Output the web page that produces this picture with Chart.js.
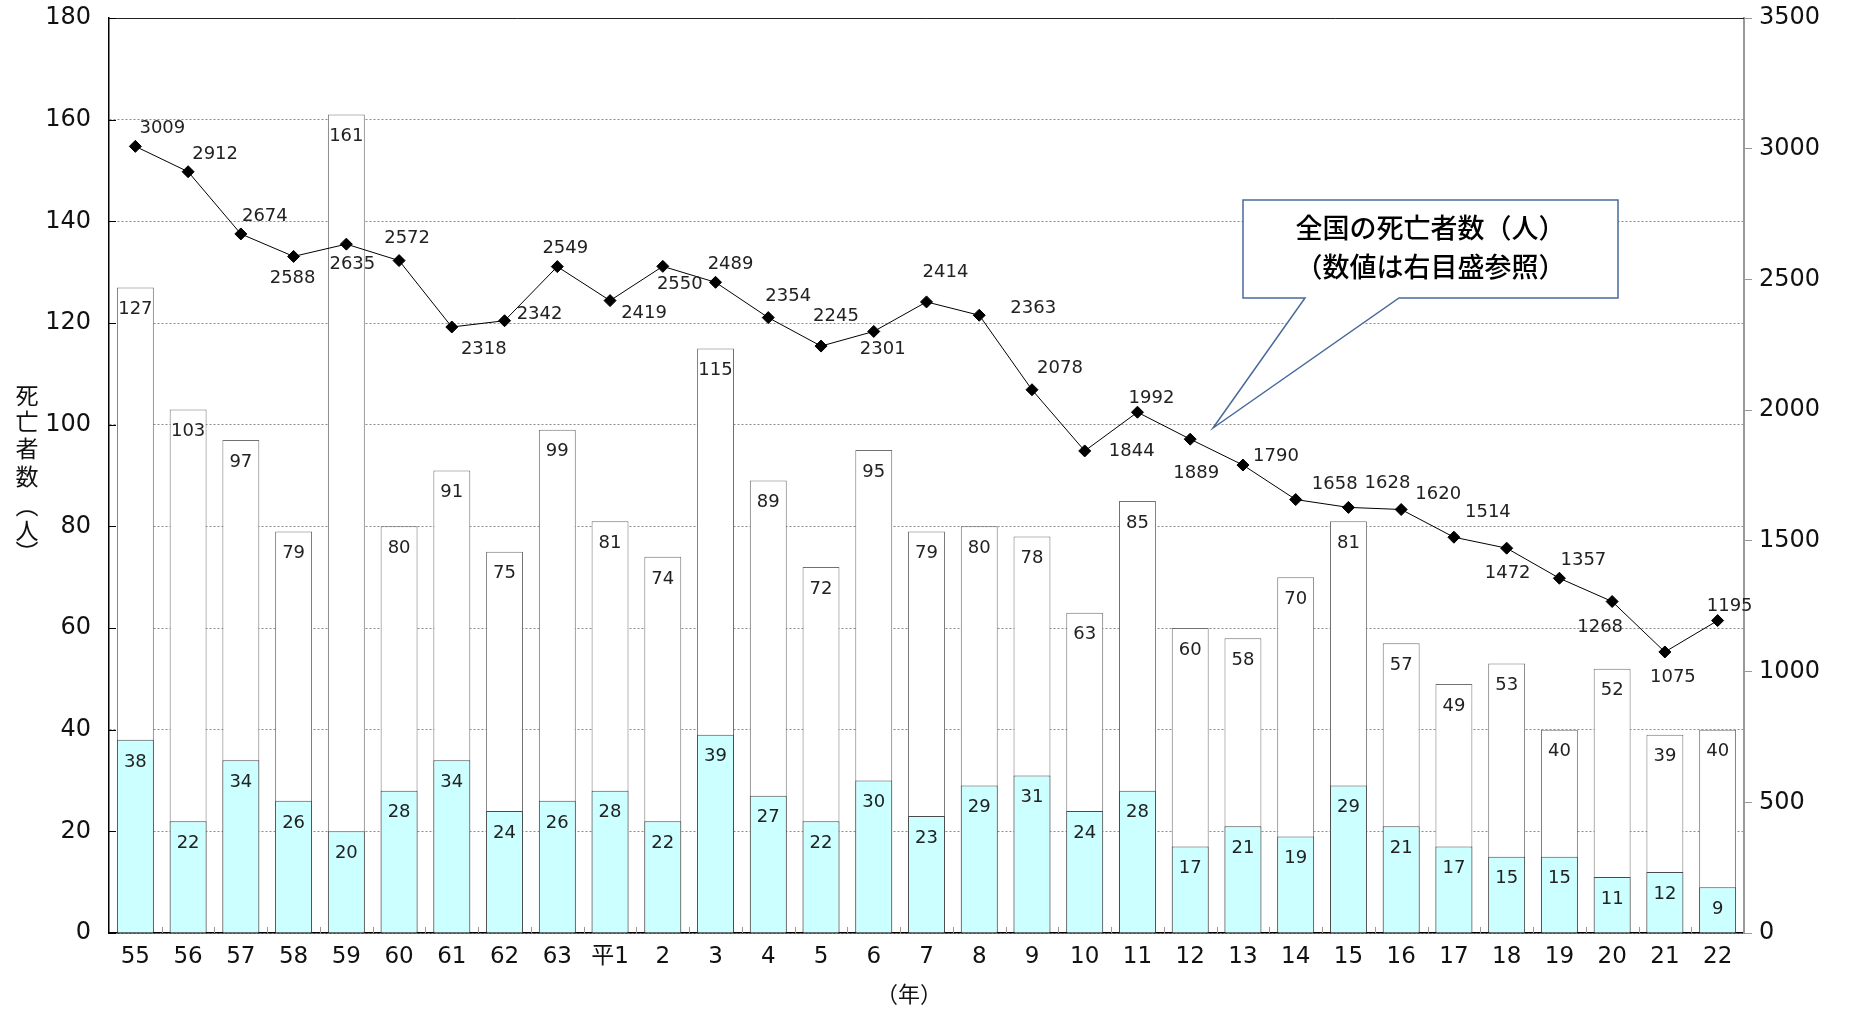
<!DOCTYPE html>
<html>
<head>
<meta charset="utf-8">
<script src="https://cdn.jsdelivr.net/npm/chart.js@4/dist/chart.umd.min.js"></script>
<style>
  html, body { margin: 0; padding: 0; background: #fff; }
  #wrap { width: 1851px; height: 1012px; }
</style>
</head>
<body>
<div id="wrap"><canvas id="chart"></canvas></div>
<script>
// years (昭和55 〜 平成22)
const years = ['55', '56', '57', '58', '59', '60', '61', '62', '63', '平1', '2', '3', '4', '5', '6', '7', '8', '9', '10', '11', '12', '13', '14', '15', '16', '17', '18', '19', '20', '21', '22'];
// 死亡者数 total (white bars)
const totalDeaths = [127, 103, 97, 79, 161, 80, 91, 75, 99, 81, 74, 115, 89, 72, 95, 79, 80, 78, 63, 85, 60, 58, 70, 81, 57, 49, 53, 40, 52, 39, 40];
// lower part (cyan bars)
const partDeaths = [38, 22, 34, 26, 20, 28, 34, 24, 26, 28, 22, 39, 27, 22, 30, 23, 29, 31, 24, 28, 17, 21, 19, 29, 21, 17, 15, 15, 11, 12, 9];
// 全国の死亡者数 (right axis)
const nationalDeaths = [3009, 2912, 2674, 2588, 2635, 2572, 2318, 2342, 2549, 2419, 2550, 2489, 2354, 2245, 2301, 2414, 2363, 2078, 1844, 1992, 1889, 1790, 1658, 1628, 1620, 1514, 1472, 1357, 1268, 1075, 1195];

// where each line label sits relative to its marker (px)
const lineLabelOffsets = [
  [27, -18], [27, -17], [24, -18], [-1, 22], [6, 20], [8, -22], [32, 22], [35, -6],
  [8, -18], [34, 13], [17, 18], [15, -18], [20, -21], [15, -30], [9, 18], [19, -30],
  [54, -7], [28, -21], [47, 0], [14, -14], [6, 34], [33, -9], [39, -15], [39, -24],
  [37, -15], [34, -25], [1, 25], [24, -18], [-12, 26], [8, 25], [12, -14]
];

const FONT = "'Noto Sans CJK JP', 'Noto Sans', sans-serif";
const NUM_FONT = "'DejaVu Sans', 'Noto Sans CJK JP', sans-serif";

const extras = {
  id: 'extras',
  beforeDraw(chart) {
    const ctx = chart.ctx;
    ctx.save();
    ctx.fillStyle = '#fff';
    ctx.fillRect(0, 0, chart.width, chart.height);
    ctx.restore();
  },
  afterDraw(chart) {
    const ctx = chart.ctx;
    const a = chart.chartArea;
    const y = chart.scales.y;
    const x = chart.scales.x;
    ctx.save();

    // top frame line
    ctx.strokeStyle = '#222';
    ctx.lineWidth = 1;
    ctx.beginPath();
    ctx.moveTo(a.left, a.top + 0.5);
    ctx.lineTo(a.right, a.top + 0.5);
    ctx.stroke();

    // inside ticks on the left axis
    ctx.strokeStyle = '#000';
    y.ticks.forEach(t => {
      const py = Math.round(y.getPixelForValue(t.value)) + 0.5;
      ctx.beginPath();
      ctx.moveTo(a.left, py);
      ctx.lineTo(a.left + 7, py);
      ctx.stroke();
    });

    // small ticks between categories on the x axis
    ctx.strokeStyle = '#999';
    for (let i = 1; i < years.length; i++) {
      const px = Math.round((x.getPixelForValue(i - 1) + x.getPixelForValue(i)) / 2) + 0.5;
      ctx.beginPath();
      ctx.moveTo(px, a.bottom);
      ctx.lineTo(px, a.bottom - 6);
      ctx.stroke();
    }

    // value labels on bars
    ctx.fillStyle = '#222';
    ctx.font = '18px ' + NUM_FONT;
    ctx.textAlign = 'center';
    ctx.textBaseline = 'middle';
    [0, 1].forEach(di => {
      const meta = chart.getDatasetMeta(di);
      const vals = chart.data.datasets[di].data;
      meta.data.forEach((el, i) => {
        ctx.fillText(String(vals[i]), el.x, el.y + 22);
      });
    });

    // value labels on the line
    const lm = chart.getDatasetMeta(2);
    lm.data.forEach((el, i) => {
      const off = lineLabelOffsets[i];
      ctx.fillText(String(nationalDeaths[i]), el.x + off[0], el.y + off[1]);
    });

    // vertical y axis title
    ctx.fillStyle = '#111';
    ctx.font = '23px ' + FONT;
    const vChars = ['死', '亡', '者', '数', '︵', '人', '︶'];
    const vPos = [395, 421, 448, 476, 505, 530, 552];
    vChars.forEach((c, i) => ctx.fillText(c, 27, vPos[i]));

    // x axis title
    ctx.font = '22px ' + FONT;
    ctx.fillText('（年）', 909, 994);

    // callout box
    const bx = 1243, by = 200, bw = 375, bh = 98;
    const tipX = 1213, tipY = 428;
    ctx.beginPath();
    ctx.moveTo(bx, by);
    ctx.lineTo(bx + bw, by);
    ctx.lineTo(bx + bw, by + bh);
    ctx.lineTo(1399, by + bh);
    ctx.lineTo(tipX, tipY);
    ctx.lineTo(1305, by + bh);
    ctx.lineTo(bx, by + bh);
    ctx.closePath();
    ctx.fillStyle = '#fff';
    ctx.fill();
    ctx.strokeStyle = '#4a6a9c';
    ctx.lineWidth = 1.5;
    ctx.stroke();
    ctx.fillStyle = '#000';
    ctx.font = '500 27px ' + FONT;
    ctx.fillText('全国の死亡者数（人）', bx + bw / 2, 228);
    ctx.fillText('（数値は右目盛参照）', bx + bw / 2, 267);

    ctx.restore();
  }
};

new Chart(document.getElementById('chart'), {
  data: {
    labels: years,
    datasets: [
      {
        type: 'bar',
        label: '死亡者数',
        data: totalDeaths,
        backgroundColor: '#ffffff',
        borderColor: '#707070',
        borderWidth: 1,
        grouped: false,
        barPercentage: 0.7,
        categoryPercentage: 1,
        yAxisID: 'y',
        order: 3
      },
      {
        type: 'bar',
        label: '内訳',
        data: partDeaths,
        backgroundColor: '#ccffff',
        borderColor: '#4a4a4a',
        borderWidth: 1,
        grouped: false,
        barPercentage: 0.7,
        categoryPercentage: 1,
        yAxisID: 'y',
        order: 2
      },
      {
        type: 'line',
        label: '全国の死亡者数',
        data: nationalDeaths,
        borderColor: '#000',
        borderWidth: 1,
        pointStyle: 'rectRot',
        pointRadius: 6,
        pointBackgroundColor: '#000',
        pointBorderColor: '#000',
        tension: 0,
        yAxisID: 'y1',
        order: 1
      }
    ]
  },
  options: {
    responsive: true,
    maintainAspectRatio: false,
    animation: false,
    layout: { padding: { top: 18, left: 0, right: 0, bottom: 0 } },
    plugins: {
      legend: { display: false },
      tooltip: { enabled: false }
    },
    scales: {
      x: {
        grid: { display: false, drawTicks: false },
        border: { display: true, color: '#000', width: 1.5 },
        ticks: { color: '#111', font: { family: NUM_FONT, size: 23 }, padding: 10, maxRotation: 0, autoSkip: false },
        afterFit(s) { s.height = 79; s.paddingLeft = 0; s.paddingRight = 0; }
      },
      y: {
        position: 'left',
        min: 0,
        max: 180,
        ticks: { stepSize: 20, color: '#111', font: { family: NUM_FONT, size: 24 }, padding: 18 },
        grid: { color: '#8a8a8a', lineWidth: 1, drawTicks: false },
        border: { display: true, color: '#000', width: 1.5, dash: [2, 2] },
        afterFit(s) { s.width = 109; s.paddingTop = 0; s.paddingBottom = 0; }
      },
      y1: {
        position: 'right',
        min: 0,
        max: 3500,
        ticks: {
          stepSize: 500,
          color: '#111',
          font: { family: NUM_FONT, size: 24 },
          padding: 7,
          callback: v => String(v)
        },
        grid: { drawOnChartArea: false, color: '#999', tickLength: 8 },
        border: { display: true, color: '#999', width: 2 },
        afterFit(s) { s.width = 107; s.paddingTop = 0; s.paddingBottom = 0; }
      }
    }
  },
  plugins: [extras]
});
</script>
</body>
</html>
